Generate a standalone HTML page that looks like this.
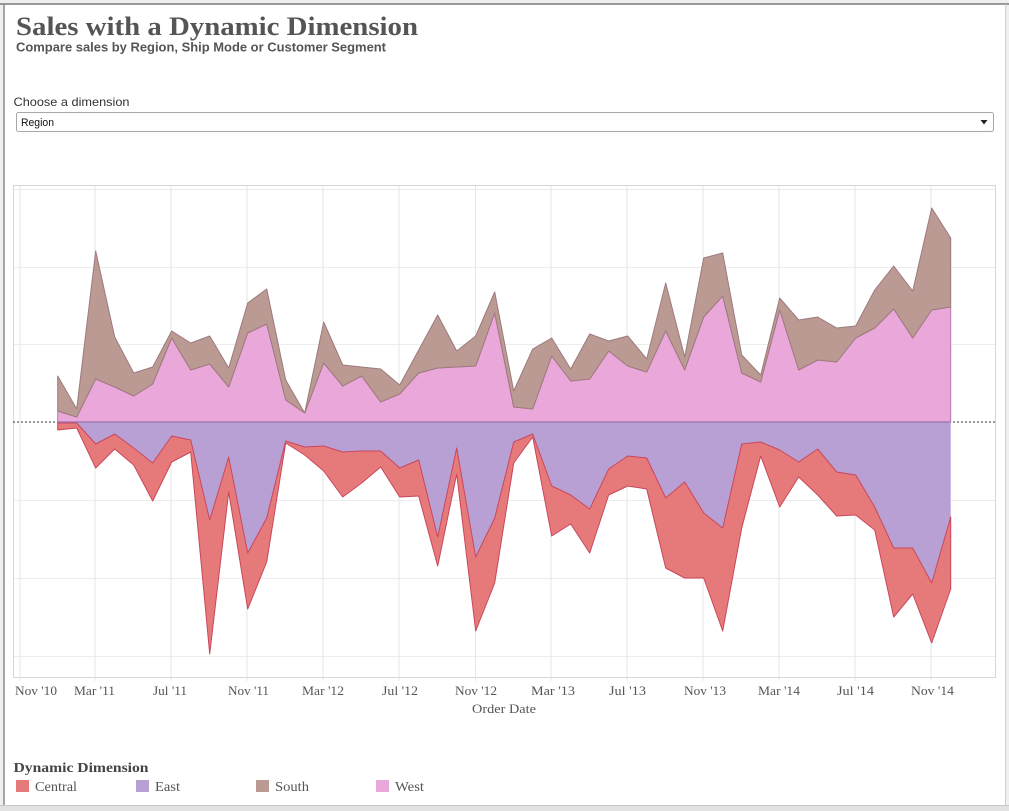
<!DOCTYPE html>
<html><head><meta charset="utf-8"><style>
html,body{margin:0;padding:0;background:#fff;}
body{width:1009px;height:811px;overflow:hidden;}
svg{display:block;}
</style></head><body>
<svg width="1009" height="811" viewBox="0 0 1009 811" xmlns="http://www.w3.org/2000/svg">
<rect x="0" y="0" width="1009" height="811" fill="#efefef"/>
<rect x="4" y="4" width="1001" height="801" fill="#ffffff"/>
<line x1="0" y1="4" x2="1009" y2="4" stroke="#7a7a7a" stroke-width="1.5"/>
<line x1="4" y1="4" x2="4" y2="805" stroke="#8a8a8a" stroke-width="1.5"/>
<line x1="1005.5" y1="4" x2="1005.5" y2="805" stroke="#d0d0d0" stroke-width="1"/>
<rect x="0" y="805" width="1009" height="6" fill="#e2e2e2"/>
<line x1="0" y1="805.5" x2="1009" y2="805.5" stroke="#c8c8c8"/>

<text x="16" y="35" font-family="Liberation Serif, serif" font-weight="bold" font-size="26" fill="#555" textLength="402" lengthAdjust="spacingAndGlyphs">Sales with a Dynamic Dimension</text>
<text x="16" y="51.5" font-family="Liberation Sans, Arial, sans-serif" font-weight="bold" font-size="13" fill="#555" textLength="370" lengthAdjust="spacingAndGlyphs">Compare sales by Region, Ship Mode or Customer Segment</text>

<text x="13.5" y="106" font-family="Liberation Sans, Arial, sans-serif" font-size="12" fill="#333" textLength="116" lengthAdjust="spacingAndGlyphs">Choose a dimension</text>
<rect x="16.5" y="112.5" width="977" height="19" rx="2" ry="2" fill="#fff" stroke="#a8a8a8"/>
<text x="21" y="126" font-family="Liberation Sans, Arial, sans-serif" font-size="11" fill="#111" textLength="33" lengthAdjust="spacingAndGlyphs">Region</text>
<polygon points="980.5,120 987.5,120 984,124.5" fill="#222"/>

<!-- chart frame -->
<rect x="13.5" y="185.5" width="982" height="492" fill="#fff" stroke="#d6d6d6"/>
<g stroke="#ececec" stroke-width="1">
<line x1="14" y1="189.5" x2="995" y2="189.5"/>
<line x1="14" y1="267.5" x2="995" y2="267.5"/>
<line x1="14" y1="344.5" x2="995" y2="344.5"/>
<line x1="14" y1="500.5" x2="995" y2="500.5"/>
<line x1="14" y1="578.5" x2="995" y2="578.5"/>
<line x1="14" y1="656.5" x2="995" y2="656.5"/>
</g>
<g stroke="#e6e6e6" stroke-width="1">
<line x1="20" y1="186" x2="20" y2="681"/>
<line x1="95" y1="186" x2="95" y2="681"/>
<line x1="171" y1="186" x2="171" y2="681"/>
<line x1="247" y1="186" x2="247" y2="681"/>
<line x1="323" y1="186" x2="323" y2="681"/>
<line x1="399" y1="186" x2="399" y2="681"/>
<line x1="475.5" y1="186" x2="475.5" y2="681"/>
<line x1="551" y1="186" x2="551" y2="681"/>
<line x1="627" y1="186" x2="627" y2="681"/>
<line x1="703" y1="186" x2="703" y2="681"/>
<line x1="779" y1="186" x2="779" y2="681"/>
<line x1="855" y1="186" x2="855" y2="681"/>
<line x1="931" y1="186" x2="931" y2="681"/>
</g>

<line x1="13" y1="422" x2="996" y2="422" stroke="#333" stroke-width="1" stroke-dasharray="2,2"/>

<!-- West (pink) from zero -->
<polygon fill="#eaa7d9" stroke="#b87aa8" stroke-width="1" stroke-linejoin="round" points="57.7,422 57.7,411 76.7,417 95.7,379 114.7,387 133.7,396 152.7,384 171.7,338 190.7,370 209.7,364 228.7,387 247.7,333 266.7,324 285.7,400 304.7,413 323.7,363 342.7,386 361.7,376 380.7,402 399.7,394 418.7,373 437.7,368 456.7,367 475.7,366 494.7,313 513.7,407 532.7,409 551.7,356 570.7,381 589.7,379 608.7,351 627.7,366 646.7,372 665.7,331 684.7,370 703.7,317 722.7,296 741.7,373 760.7,382 779.7,310 798.7,370 817.7,360 836.7,362 855.7,338 874.7,328 893.7,309 912.7,338 931.7,310 950.7,307 950.7,422"/>
<!-- South (brown) band -->
<polygon fill="#bb9a93" stroke="#9d7a7e" stroke-width="1" stroke-linejoin="round" points="57.7,376 76.7,409 95.7,251 114.7,337 133.7,373 152.7,367 171.7,331 190.7,343 209.7,336 228.7,368 247.7,303 266.7,289 285.7,380 304.7,413 323.7,322 342.7,365 361.7,367 380.7,369 399.7,385 418.7,350 437.7,315 456.7,351 475.7,336 494.7,292 513.7,391 532.7,349 551.7,338 570.7,369 589.7,334 608.7,341 627.7,336 646.7,359 665.7,283 684.7,357 703.7,258 722.7,253 741.7,355 760.7,375 779.7,298 798.7,320 817.7,317 836.7,328 855.7,326 874.7,290 893.7,266 912.7,291 931.7,208 950.7,238 950.7,307 931.7,310 912.7,338 893.7,309 874.7,328 855.7,338 836.7,362 817.7,360 798.7,370 779.7,310 760.7,382 741.7,373 722.7,296 703.7,317 684.7,370 665.7,331 646.7,372 627.7,366 608.7,351 589.7,379 570.7,381 551.7,356 532.7,409 513.7,407 494.7,313 475.7,366 456.7,367 437.7,368 418.7,373 399.7,394 380.7,402 361.7,376 342.7,386 323.7,363 304.7,413 285.7,400 266.7,324 247.7,333 228.7,387 209.7,364 190.7,370 171.7,338 152.7,384 133.7,396 114.7,387 95.7,379 76.7,417 57.7,411"/>

<!-- East (purple) from zero -->
<polygon fill="#b8a0d5" stroke="none" points="57.7,422 57.7,423 76.7,423 95.7,444 114.7,434 133.7,448 152.7,463 171.7,436 190.7,440 209.7,520 228.7,457 247.7,553 266.7,518 285.7,441 304.7,447 323.7,446 342.7,452 361.7,451 380.7,451 399.7,468 418.7,460 437.7,537 456.7,448 475.7,557 494.7,518 513.7,442 532.7,434 551.7,486 570.7,495 589.7,509 608.7,469 627.7,456 646.7,458 665.7,498 684.7,482 703.7,513 722.7,528 741.7,444 760.7,442 779.7,450 798.7,462 817.7,449 836.7,472 855.7,475 874.7,507 893.7,548 912.7,548 931.7,583 950.7,517 950.7,422"/>
<!-- Central (red) band -->
<polygon fill="#e67a7b" stroke="#c9475b" stroke-width="1" stroke-linejoin="round" points="57.7,430 76.7,428 95.7,468 114.7,449 133.7,465 152.7,501 171.7,462 190.7,452 209.7,654 228.7,492 247.7,609 266.7,562 285.7,443 304.7,455 323.7,471 342.7,497 361.7,483 380.7,467 399.7,497 418.7,496 437.7,566 456.7,474 475.7,631 494.7,583 513.7,463 532.7,437 551.7,536 570.7,524 589.7,553 608.7,495 627.7,486 646.7,489 665.7,568 684.7,578 703.7,578 722.7,631 741.7,528 760.7,456 779.7,507 798.7,477 817.7,495 836.7,516 855.7,515 874.7,530 893.7,617 912.7,594 931.7,643 950.7,589 950.7,517 931.7,583 912.7,548 893.7,548 874.7,507 855.7,475 836.7,472 817.7,449 798.7,462 779.7,450 760.7,442 741.7,444 722.7,528 703.7,513 684.7,482 665.7,498 646.7,458 627.7,456 608.7,469 589.7,509 570.7,495 551.7,486 532.7,434 513.7,442 494.7,518 475.7,557 456.7,448 437.7,537 418.7,460 399.7,468 380.7,451 361.7,451 342.7,452 323.7,446 304.7,447 285.7,441 266.7,518 247.7,553 228.7,457 209.7,520 190.7,440 171.7,436 152.7,463 133.7,448 114.7,434 95.7,444 76.7,423 57.7,423"/>

<line x1="57.7" y1="422" x2="950.7" y2="422" stroke="#9a72aa" stroke-width="1.2"/>

<!-- x axis labels -->
<g font-family="Liberation Serif, serif" font-size="13" fill="#555">
<text x="15" y="695" textLength="42" lengthAdjust="spacingAndGlyphs">Nov '10</text>
<text x="74" y="695" textLength="41" lengthAdjust="spacingAndGlyphs">Mar '11</text>
<text x="153" y="695" textLength="34" lengthAdjust="spacingAndGlyphs">Jul '11</text>
<text x="228" y="695" textLength="41" lengthAdjust="spacingAndGlyphs">Nov '11</text>
<text x="302" y="695" textLength="42" lengthAdjust="spacingAndGlyphs">Mar '12</text>
<text x="382" y="695" textLength="36" lengthAdjust="spacingAndGlyphs">Jul '12</text>
<text x="455" y="695" textLength="42" lengthAdjust="spacingAndGlyphs">Nov '12</text>
<text x="531" y="695" textLength="44" lengthAdjust="spacingAndGlyphs">Mar '13</text>
<text x="609" y="695" textLength="37" lengthAdjust="spacingAndGlyphs">Jul '13</text>
<text x="684" y="695" textLength="42" lengthAdjust="spacingAndGlyphs">Nov '13</text>
<text x="758" y="695" textLength="42" lengthAdjust="spacingAndGlyphs">Mar '14</text>
<text x="837" y="695" textLength="37" lengthAdjust="spacingAndGlyphs">Jul '14</text>
<text x="911" y="695" textLength="43" lengthAdjust="spacingAndGlyphs">Nov '14</text>
<text x="472" y="713" textLength="64" lengthAdjust="spacingAndGlyphs">Order Date</text>
</g>

<!-- legend -->
<text x="13.5" y="772" font-family="Liberation Serif, serif" font-weight="bold" font-size="14" fill="#444" textLength="135" lengthAdjust="spacingAndGlyphs">Dynamic Dimension</text>
<rect x="16" y="780" width="13" height="12" fill="#e67a7b"/>
<rect x="136" y="780" width="13" height="12" fill="#b8a0d5"/>
<rect x="256" y="780" width="13" height="12" fill="#bb9a93"/>
<rect x="376" y="780" width="13" height="12" fill="#eaa7d9"/>
<g font-family="Liberation Serif, serif" font-size="14" fill="#555">
<text x="35" y="791" textLength="42" lengthAdjust="spacingAndGlyphs">Central</text>
<text x="155" y="791" textLength="25" lengthAdjust="spacingAndGlyphs">East</text>
<text x="275" y="791" textLength="34" lengthAdjust="spacingAndGlyphs">South</text>
<text x="395" y="791" textLength="29" lengthAdjust="spacingAndGlyphs">West</text>
</g>
</svg>
</body></html>
